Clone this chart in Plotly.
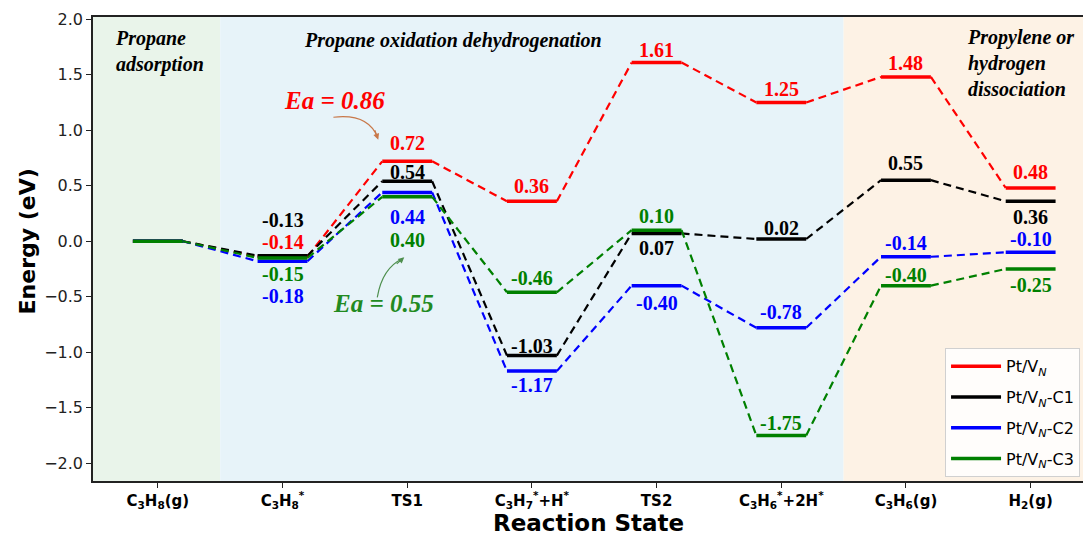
import plotly.graph_objects as go

# ---------------- data ----------------
states = ["C<sub>3</sub>H<sub>8</sub>(g)", "C<sub>3</sub>H<sub>8</sub><sup>*</sup>", "TS1",
          "C<sub>3</sub>H<sub>7</sub><sup>*</sup>+H<sup>*</sup>", "TS2",
          "C<sub>3</sub>H<sub>6</sub><sup>*</sup>+2H<sup>*</sup>", "C<sub>3</sub>H<sub>6</sub>(g)",
          "H<sub>2</sub>(g)"]
series_names = ["Pt/V<sub><i>N</i></sub>", "Pt/V<sub><i>N</i></sub>-C1",
                "Pt/V<sub><i>N</i></sub>-C2", "Pt/V<sub><i>N</i></sub>-C3"]
pt_vn = [0.00, -0.14, 0.72, 0.36, 1.61, 1.25, 1.48, 0.48]
pt_vn_c1 = [0.00, -0.13, 0.54, -1.03, 0.07, 0.02, 0.55, 0.36]
pt_vn_c2 = [0.00, -0.18, 0.44, -1.17, -0.40, -0.78, -0.14, -0.10]
pt_vn_c3 = [0.00, -0.15, 0.40, -0.46, 0.10, -1.75, -0.40, -0.25]
series_values = [pt_vn, pt_vn_c1, pt_vn_c2, pt_vn_c3]
y_ticks = [-2.0, -1.5, -1.0, -0.5, 0.0, 0.5, 1.0, 1.5, 2.0]
region_titles = ["Propane<br>adsorption", "Propane oxidation dehydrogenation",
                 "Propylene or<br>hydrogen<br>dissociation"]
ea_labels = ["Ea = 0.86", "Ea = 0.55"]
axis_titles = ["Reaction State", "Energy (eV)"]

# ---------------- style / placement ----------------
colors = ["#FF0000", "#000000", "#0000FF", "#008000"]
# vertical pixel shift of each value label from its level (None = no label)
label_shift = [
    [None, 15, 18, 15, 13, 13, 14, 16],
    [None, 36, 9, 10, -15, 11, 17, -16],
    [None, -35, -25, -14, -17, 16, 14, 13],
    [None, -16, -43, 14, 14, 12, 11, -16],
]
half_w = 0.2
serif = "Liberation Serif"
sans = "DejaVu Sans"

fig = go.Figure()

xs = list(range(len(states)))

# background regions
for x0, x1, col in [(-0.52, 0.5, "#E9F4EA"), (0.5, 5.5, "#E7F3F9"), (5.5, 7.46, "#FDF2E5")]:
    fig.add_shape(type="rect", xref="x", yref="paper", x0=x0, x1=x1, y0=0, y1=1,
                  fillcolor=col, line_width=0, layer="below")

for s, (name, vals, col) in enumerate(zip(series_names, series_values, colors)):
    # dashed connectors
    cx, cy = [], []
    for i in range(len(vals) - 1):
        cx += [xs[i] + half_w, xs[i + 1] - half_w, None]
        cy += [vals[i], vals[i + 1], None]
    fig.add_trace(go.Scatter(x=cx, y=cy, mode="lines", showlegend=False, hoverinfo="skip",
                             line=dict(color=col, width=2.2, dash="8px,5px")))
for s, (name, vals, col) in enumerate(zip(series_names, series_values, colors)):
    # solid levels
    lx, ly = [], []
    for i, v in enumerate(vals):
        lx += [xs[i] - half_w, xs[i] + half_w, None]
        ly += [v, v, None]
    fig.add_trace(go.Scatter(x=lx, y=ly, mode="lines", name=name, legendgroup=f"g{s}",
                             line=dict(color=col, width=3.5)))
    for i, v in enumerate(vals):
        sh = label_shift[s][i]
        if sh is None:
            continue
        fig.add_annotation(x=xs[i], y=v, text=f"{v:.2f}", showarrow=False, yshift=sh,
                           yanchor="middle", xanchor="center",
                           font=dict(family=serif, size=20, color=col, weight="bold"))

# region titles
title_font = dict(family=serif, size=20, color="black", weight="bold", style="italic")
fig.add_annotation(x=-0.36, y=1.71, text=region_titles[0], showarrow=False, xanchor="left",
                   yanchor="middle", align="left", font=title_font)
fig.add_annotation(x=2.37, y=1.81, text=region_titles[1], showarrow=False, xanchor="center",
                   yanchor="middle", font=title_font)
fig.add_annotation(x=6.47, y=1.61, text=region_titles[2], showarrow=False, xanchor="left",
                   yanchor="middle", align="left", font=title_font)

# Ea annotations
fig.add_annotation(x=1.42, y=1.27, text=ea_labels[0], showarrow=False,
                   font=dict(family=serif, size=25, color="#FF0000", weight="bold", style="italic"))
fig.add_annotation(x=1.81, y=-0.56, text=ea_labels[1], showarrow=False,
                   font=dict(family=serif, size=25, color="#218A21", weight="bold", style="italic"))

# curved arrows
arrow_red = "#C8784A"
arrow_green = "#4E8F4E"
fig.add_shape(type="path", xref="x", yref="y",
              path="M 1.408,1.117 Q 1.688,1.153 1.762,0.935",
              line=dict(color=arrow_red, width=1.2))
fig.add_annotation(x=1.768, y=0.915, ax=-4, ay=-11, axref="pixel", ayref="pixel",
                   text="", showarrow=True, arrowhead=2, arrowsize=1, arrowwidth=1.2,
                   arrowcolor=arrow_red)
fig.add_shape(type="path", xref="x", yref="y",
              path="M 1.76,-0.505 Q 1.80,-0.24 1.965,-0.155",
              line=dict(color=arrow_green, width=1.2))
fig.add_annotation(x=1.976, y=-0.144, ax=-9, ay=8, axref="pixel", ayref="pixel",
                   text="", showarrow=True, arrowhead=2, arrowsize=1, arrowwidth=1.2,
                   arrowcolor=arrow_green)

# axis titles
fig.add_annotation(xref="paper", yref="paper", x=0.4975, y=-0.09, text=axis_titles[0],
                   showarrow=False, xanchor="center", yanchor="middle",
                   font=dict(family=sans, size=23, color="black", weight="bold"))
fig.add_annotation(xref="paper", yref="paper", x=-0.066, y=0.517, text=axis_titles[1],
                   showarrow=False, xanchor="center", yanchor="middle", textangle=-90,
                   font=dict(family=sans, size=22, color="black", weight="bold"))

# the page body adds an 8px offset, so the figure is 8px smaller than the window
fig.update_layout(
    width=1083, height=528,
    margin=dict(l=85, r=3, t=9, b=55),
    plot_bgcolor="white", paper_bgcolor="white",
    showlegend=True,
    legend=dict(x=0.992, y=0.008, xanchor="right", yanchor="bottom",
                bgcolor="rgba(255,255,255,0.85)", bordercolor="#D0D0D0", borderwidth=1,
                font=dict(family=sans, size=16, color="black"),
                itemwidth=50, tracegroupgap=7),
)
fig.update_xaxes(range=[-0.52, 7.46], tickvals=xs, ticktext=states, automargin=False,
                 showgrid=False, zeroline=False, showline=True, mirror=True,
                 linecolor="#222", linewidth=1.5, ticks="outside", ticklen=5, tickcolor="#222",
                 tickfont=dict(family=sans, size=15, color="black", weight="bold"))
fig.update_yaxes(range=[-2.16, 2.02], tickvals=y_ticks, tickformat=".1f", automargin=False,
                 showgrid=False, zeroline=False, showline=True, mirror=True,
                 linecolor="#222", linewidth=1.5, ticks="outside", ticklen=5, tickcolor="#222",
                 tickfont=dict(family=sans, size=16, color="#222"))

fig.write_html("out.html")
